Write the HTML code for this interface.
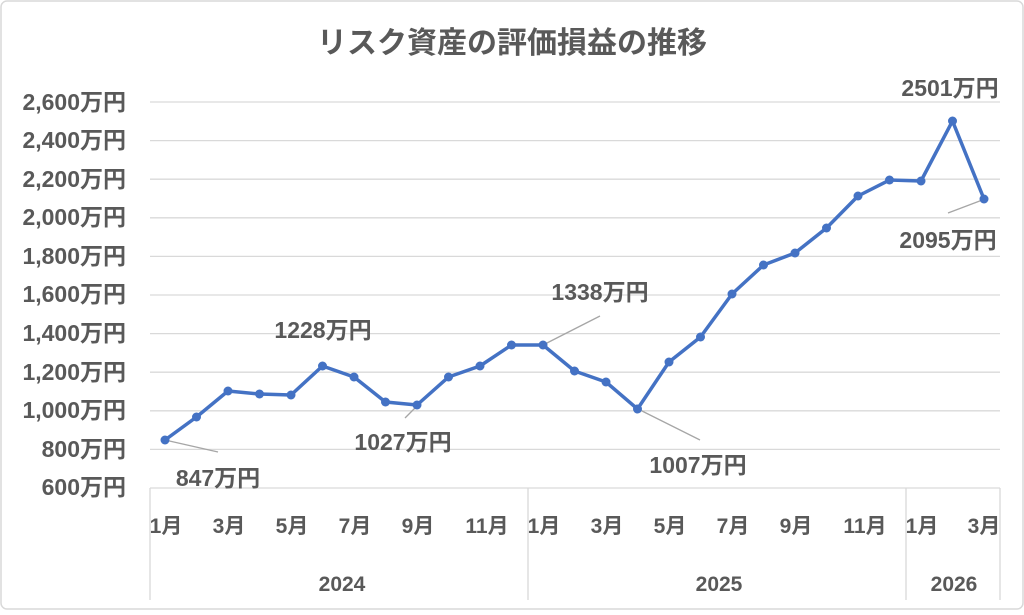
<!DOCTYPE html>
<html><head><meta charset="utf-8"><style>
body{margin:0;background:#fff}
text{font-family:"Liberation Sans","Noto Sans CJK JP",sans-serif;fill:#595959;font-weight:bold}
</style></head><body>
<svg width="1024" height="610" viewBox="0 0 1024 610" xmlns="http://www.w3.org/2000/svg">
<rect x="1" y="1" width="1022" height="608" rx="6" fill="#fff" stroke="#d9d9d9" stroke-width="1.5"/>
<text x="512" y="53" font-size="30" text-anchor="middle">リスク資産の評価損益の推移</text>
<g stroke="#d9d9d9" stroke-width="1.3">
<line x1="150" x2="1000" y1="102" y2="102"/><line x1="150" x2="1000" y1="140.6" y2="140.6"/>
<line x1="150" x2="1000" y1="179.2" y2="179.2"/><line x1="150" x2="1000" y1="217.8" y2="217.8"/>
<line x1="150" x2="1000" y1="256.4" y2="256.4"/><line x1="150" x2="1000" y1="295" y2="295"/>
<line x1="150" x2="1000" y1="333.6" y2="333.6"/><line x1="150" x2="1000" y1="372.2" y2="372.2"/>
<line x1="150" x2="1000" y1="410.8" y2="410.8"/><line x1="150" x2="1000" y1="449.4" y2="449.4"/>
<line x1="150" x2="1000" y1="488" y2="488"/>
<line x1="150" x2="150" y1="488" y2="600"/><line x1="528" x2="528" y1="488" y2="600"/>
<line x1="906" x2="906" y1="488" y2="600"/><line x1="1000" x2="1000" y1="488" y2="600"/>
</g>
<g font-size="23" text-anchor="end">
<text x="126" y="110">2,600万円</text><text x="126" y="148">2,400万円</text>
<text x="126" y="187">2,200万円</text><text x="126" y="225">2,000万円</text>
<text x="126" y="264">1,800万円</text><text x="126" y="302">1,600万円</text>
<text x="126" y="341">1,400万円</text><text x="126" y="380">1,200万円</text>
<text x="126" y="418">1,000万円</text><text x="126" y="457">800万円</text>
<text x="126" y="495">600万円</text>
</g>
<g font-size="21" text-anchor="middle">
<text x="166" y="533">1月</text><text x="229" y="533">3月</text><text x="292" y="533">5月</text>
<text x="355" y="533">7月</text><text x="418" y="533">9月</text><text x="487" y="533">11月</text>
<text x="544" y="533">1月</text><text x="607" y="533">3月</text><text x="670" y="533">5月</text>
<text x="733" y="533">7月</text><text x="796" y="533">9月</text><text x="865" y="533">11月</text>
<text x="922" y="533">1月</text><text x="984" y="533">3月</text>
</g>
<g font-size="21" text-anchor="middle">
<text x="342" y="591">2024</text><text x="719" y="591">2025</text><text x="954" y="591">2026</text>
</g>
<g stroke="#a6a6a6" stroke-width="1.3">
<line x1="165" y1="440" x2="218" y2="452"/><line x1="418" y1="405" x2="405" y2="418"/>
<line x1="543" y1="345" x2="600" y2="316"/><line x1="638" y1="409" x2="700" y2="440"/>
<line x1="985" y1="199" x2="948" y2="213"/>
</g>
<polyline fill="none" stroke="#4472c4" stroke-width="3.5" stroke-linejoin="round" points="165,440 196.5,417 228,391 259.5,394 291,395 322.5,366 354,377 385.5,402 417,405 448.5,377 480,366 511.5,345 543,345 574.5,371 606,382 637.5,409 669,362 700.5,337 732,294 763.5,265 795,253 826.5,228 858,196 889.5,180 921,181 952.5,121 984,199"/>
<g fill="#4472c4">
<circle cx="165" cy="440" r="4.5"/><circle cx="196.5" cy="417" r="4.5"/><circle cx="228" cy="391" r="4.5"/><circle cx="259.5" cy="394" r="4.5"/><circle cx="291" cy="395" r="4.5"/><circle cx="322.5" cy="366" r="4.5"/><circle cx="354" cy="377" r="4.5"/><circle cx="385.5" cy="402" r="4.5"/><circle cx="417" cy="405" r="4.5"/><circle cx="448.5" cy="377" r="4.5"/><circle cx="480" cy="366" r="4.5"/><circle cx="511.5" cy="345" r="4.5"/><circle cx="543" cy="345" r="4.5"/><circle cx="574.5" cy="371" r="4.5"/><circle cx="606" cy="382" r="4.5"/><circle cx="637.5" cy="409" r="4.5"/><circle cx="669" cy="362" r="4.5"/><circle cx="700.5" cy="337" r="4.5"/><circle cx="732" cy="294" r="4.5"/><circle cx="763.5" cy="265" r="4.5"/><circle cx="795" cy="253" r="4.5"/><circle cx="826.5" cy="228" r="4.5"/><circle cx="858" cy="196" r="4.5"/><circle cx="889.5" cy="180" r="4.5"/><circle cx="921" cy="181" r="4.5"/><circle cx="952.5" cy="121" r="4.5"/><circle cx="984" cy="199" r="4.5"/>
</g>
<g font-size="23" text-anchor="middle">
<text x="218" y="486">847万円</text><text x="323" y="338">1228万円</text>
<text x="403" y="450">1027万円</text><text x="600" y="300">1338万円</text>
<text x="698" y="473">1007万円</text><text x="950" y="96">2501万円</text>
<text x="948" y="248">2095万円</text>
</g>
</svg>
</body></html>
